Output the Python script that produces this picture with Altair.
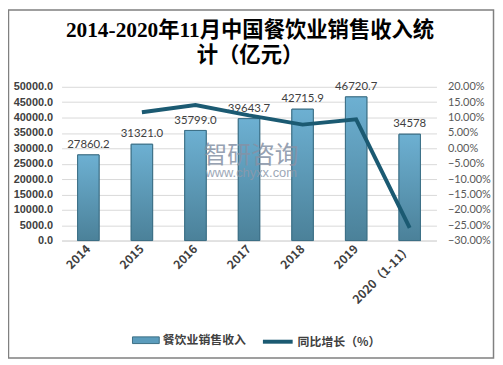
import altair as alt
import pandas as pd

years = ["2014", "2015", "2016", "2017", "2018", "2019", "2020（1-11）"]
revenue = [27860.2, 31321.0, 35799.0, 39643.7, 42715.9, 46720.7, 34578]
rev_labels = ["27860.2", "31321.0", "35799.0", "39643.7", "42715.9", "46720.7", "34578"]
growth = [None, 11.7, 14.1, 10.7, 7.7, 9.4, -25.9]
left_ticks = [0, 5000, 10000, 15000, 20000, 25000, 30000, 35000, 40000, 45000, 50000]
right_ticks = [-30, -25, -20, -15, -10, -5, 0, 5, 10, 15, 20]
bar_name = "餐饮业销售收入"
line_name = "同比增长（%）"
title_lines = ["2014-2020年11月中国餐饮业销售收入统", "计（亿元）"]
wm_texts = ["智研咨询", "www.chyxx.com"]

df = pd.DataFrame({"year": years, "revenue": revenue, "label": rev_labels,
                   "growth": growth, "s1": bar_name, "s2": line_name})

CJK = "Noto Sans CJK SC"
W, H = 378, 155

xenc = alt.X("year:N", sort=years,
             scale=alt.Scale(paddingInner=0.6, paddingOuter=0.3),
             axis=alt.Axis(title=None, labelAngle=-45, labelAlign="right",
                           labelBaseline="middle", labelPadding=6,
                           labelFont=CJK, labelFontWeight="bold", labelFontSize=12,
                           labelColor="#404040", ticks=False, domainColor="#d9d9d9"))

yleft = alt.Y("revenue:Q", scale=alt.Scale(domain=[0, 50000], nice=False),
              axis=alt.Axis(title=None, values=left_ticks, format=".1f",
                            labelFont="Liberation Sans", labelFontWeight="bold",
                            labelFontSize=11, labelColor="#404040", labelPadding=9,
                            ticks=False, domain=False, gridColor="#d9d9d9"))

base = alt.Chart(df)

bars_legend = base.mark_bar(stroke="#3d6f86", strokeWidth=1).encode(
    x=xenc, y=yleft,
    fill=alt.Fill("s1:N", scale=alt.Scale(range=["#5b9cbc"]),
                  legend=alt.Legend(title=None, orient="none", legendX=71, legendY=241.5,
                                    symbolType="M-1,-0.25H1V0.25H-1Z", symbolSize=729,
                                    symbolStrokeWidth=1, symbolStrokeColor="#3d6f86",
                                    labelFont=CJK, labelFontWeight="bold",
                                    labelFontSize=12, labelColor="#404040", labelOffset=3)))

bars = base.mark_bar(
    stroke="#3d6f86", strokeWidth=1,
    color=alt.Gradient(gradient="linear", x1=0, x2=0, y1=0, y2=1,
                       stops=[alt.GradientStop(color="#6db0d2", offset=0),
                              alt.GradientStop(color="#4b8199", offset=1)])
).encode(x=xenc, y=yleft)

bar_text = base.mark_text(dy=-10, font="Lato", fontSize=11.5, color="#404040").encode(
    x=xenc, y=yleft, text="label:N")

left = alt.layer(bars_legend, bars, bar_text)

line = base.transform_filter("datum.growth != null").mark_line(strokeWidth=4).encode(
    x=alt.X("year:N", sort=years),
    y=alt.Y("growth:Q", scale=alt.Scale(domain=[-30, 20], nice=False),
            axis=alt.Axis(title=None, orient="right", values=right_ticks,
                          labelExpr="format(datum.value, '.2f') + '%'",
                          labelFont="Lato", labelFontSize=11, labelColor="#595959",
                          labelPadding=11, ticks=False, domain=False, grid=False)),
    stroke=alt.Stroke("s2:N", scale=alt.Scale(range=["#1b5a72"]),
                      legend=alt.Legend(title=None, orient="none", legendX=201, legendY=240,
                                        symbolType="stroke", symbolSize=900,
                                        symbolStrokeWidth=4,
                                        labelFont=CJK, labelFontWeight="bold",
                                        labelFontSize=12, labelColor="#404040", labelOffset=3)))

wm = pd.DataFrame({"t": wm_texts})
watermark = alt.layer(
    alt.Chart(wm).transform_filter(alt.datum.t == wm_texts[0]).mark_text(
        align="left", font=CJK, fontSize=24, color="#8592a6", opacity=0.85).encode(
        x=alt.value(143), y=alt.value(70), text="t:N"),
    alt.Chart(wm).transform_filter(alt.datum.t == wm_texts[1]).mark_text(
        align="left", font="Liberation Sans", fontSize=13, color="#8d99ab", opacity=0.85).encode(
        x=alt.value(145), y=alt.value(87), text="t:N"),
)

tdf = pd.DataFrame({"t": title_lines})
title = alt.layer(
    alt.Chart(tdf).transform_filter(alt.datum.t == title_lines[0]).mark_text(
        align="center", baseline="alphabetic", font="Liberation Serif, " + CJK,
        fontSize=21.5, fontWeight="bold", color="#000000").encode(
        x=alt.value(190), y=alt.value(-50), text="t:N"),
    alt.Chart(tdf).transform_filter(alt.datum.t == title_lines[1]).mark_text(
        align="center", baseline="alphabetic", font="Liberation Serif, " + CJK,
        fontSize=21.5, fontWeight="bold", color="#000000").encode(
        x=alt.value(190), y=alt.value(-25), text="t:N"),
)

border = alt.Chart(df.iloc[[0]]).mark_rect(fill=None, stroke="#808080", strokeWidth=1.5).encode(
    x=alt.value(-53.5), x2=alt.value(435.5), y=alt.value(-77.5), y2=alt.value(273.5))

chart = alt.layer(left, line, watermark, title, border).resolve_scale(
    y="independent", fill="independent", stroke="independent"
).properties(
    width=W, height=H,
    padding={"left": 54, "top": 78, "right": 59, "bottom": 120},
    autosize=alt.AutoSizeParams(type="none"),
    background="white",
).configure_view(stroke=None)

chart.save("out.html", embed_options={"renderer": "svg", "actions": False})
